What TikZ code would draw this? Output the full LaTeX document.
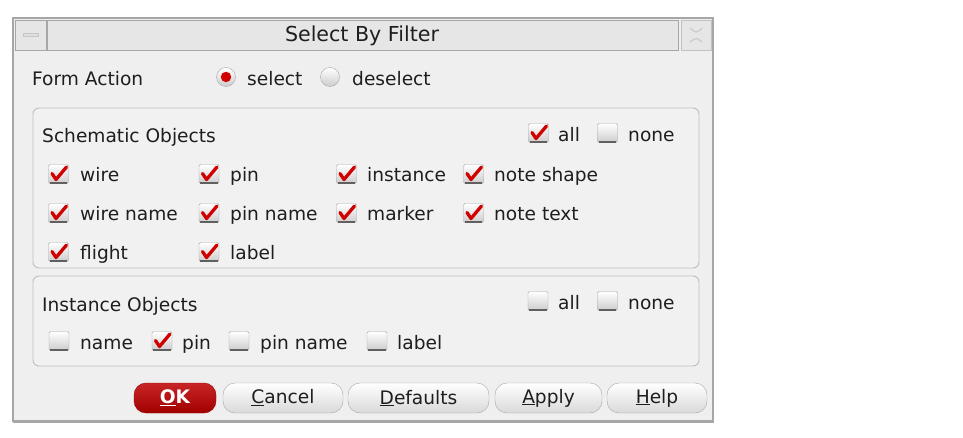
\documentclass[tikz,border=0pt]{standalone}
\usepackage{fontspec}
\setmainfont{DejaVu Sans}
\usetikzlibrary{calc}
\definecolor{dlgbg}{HTML}{EFEFEF}
\definecolor{frame}{HTML}{A6A6A6}
\definecolor{grpline}{HTML}{BEBEBE}
\definecolor{titlebg}{HTML}{E6E6E6}
\definecolor{txt}{HTML}{1E1E1E}
\definecolor{chkred}{HTML}{D00000}
\definecolor{okred}{HTML}{BE0000}
\tikzset{
  lbl/.style={anchor=base west, inner sep=0pt, text=txt, font=\fontsize{18.6}{22}\selectfont},
  cbox/.style={draw=frame, rounded corners=1.5pt, minimum width=20pt, minimum height=19pt,
    inner sep=0pt, top color=white, bottom color=gray!40},
  cshadow/.style={draw=gray!75!black, line width=1.6pt},
  chk/.style={draw=chkred, line width=3.3pt, line cap=round, line join=round},
  radio/.style={circle, draw=frame, minimum size=19pt, inner sep=0pt, top color=white, bottom color=gray!40},
  btn/.style={draw=gray!70, rounded corners=12pt, top color=white, bottom color=gray!30,
    minimum height=30pt, inner sep=0pt, text=txt, font=\fontsize{18.6}{22}\selectfont},
  grp/.style={draw=grpline, rounded corners=6pt, fill=dlgbg!85!white, line width=0.9pt},
}
\newcommand\mkbox[4]{%
  \node[cbox] (#1) at (#2,#3) {};
  \draw[cshadow] ($(#1.south west)+(1.5,-0.8)$) -- ($(#1.south east)+(-1.5,-0.8)$);
  \ifnum#4=1 \draw[chk] ($(#1.center)+(-6.5,-0.5)$) -- ($(#1.center)+(-2.5,5.5)$) -- ($(#1.center)+(8,-7)$);\fi}
\begin{document}
\begin{tikzpicture}[x=1pt,y=-1pt]
\useasboundingbox (0,0) rectangle (963,438);
\fill[white] (0,0) rectangle (963,438);
% dialog
\draw[frame, fill=dlgbg, line width=1.2pt] (13,18) rectangle (713,421);
\draw[gray!70, line width=3pt] (13,421) -- (714,421);
% title bar
\node[draw=frame, fill=titlebg, minimum width=31pt, minimum height=30pt, inner sep=0pt, anchor=north west] (minbox) at (15,20) {};
\node[draw=gray!45, fill=gray!25, minimum width=15pt, minimum height=3pt, inner sep=0pt] (minbar) at (minbox.center) {};
\node[draw=frame, fill=titlebg, minimum width=631pt, minimum height=30pt, inner sep=0pt, anchor=north west] (titlebar) at (47,20) {};
\node[draw=frame!70, fill=titlebg, minimum width=30pt, minimum height=30pt, inner sep=0pt, anchor=north west] (closebox) at (681,20) {};
\draw[gray!40, line width=1.3pt] ($(closebox.center)+(-6,-7)$) .. controls ($(closebox.center)+(0,-2)$) .. ($(closebox.center)+(6,-7)$);
\draw[gray!40, line width=1.3pt] ($(closebox.center)+(-6,7)$) .. controls ($(closebox.center)+(0,2)$) .. ($(closebox.center)+(6,7)$);
\node[anchor=base, inner sep=0pt, text=txt, font=\fontsize{20.6}{24}\selectfont] (title) at (362,42) {Select By Filter};
% form action
\node[lbl] (formaction) at (32,86) {Form Action};
\node[radio] (rsel) at (226,77) {};
\fill[chkred] (rsel.center) circle (5.2);
\node[lbl] (tsel) at (247,86) {select};
\node[radio] (rdesel) at (330,77) {};
\node[lbl] (tdesel) at (352,86) {deselect};
% schematic group
\draw[grp] (33,108) rectangle (699,268);
\node[lbl] (schem) at (42,143) {Schematic Objects};
\mkbox{sall}{538.5}{133}{1}
\node[lbl] (tsall) at (558,142) {all};
\mkbox{snone}{607.5}{133}{0}
\node[lbl] (tsnone) at (628,142) {none};
\mkbox{cwire}{58.5}{174}{1}      \node[lbl] (twire) at (80,182) {wire};
\mkbox{cpin}{209}{174}{1}        \node[lbl] (tpin) at (230,182) {pin};
\mkbox{cinst}{346.5}{174}{1}     \node[lbl] (tinst) at (367,182) {instance};
\mkbox{cnshape}{473.5}{174}{1}   \node[lbl] (tnshape) at (494,182) {note shape};
\mkbox{cwname}{58.5}{213}{1}     \node[lbl] (twname) at (80,221) {wire name};
\mkbox{cpname}{209}{213}{1}      \node[lbl] (tpname) at (230,221) {pin name};
\mkbox{cmarker}{346.5}{213}{1}   \node[lbl] (tmarker) at (367,221) {marker};
\mkbox{cntext}{473.5}{213}{1}    \node[lbl] (tntext) at (494,221) {note text};
\mkbox{cflight}{58.5}{252}{1}    \node[lbl] (tflight) at (80,259) {flight};
\mkbox{clabel}{209}{252}{1}      \node[lbl] (tlabel) at (230,259) {label};
% instance group
\draw[grp] (33,276) rectangle (699,366);
\node[lbl] (inst) at (42,311) {Instance Objects};
\mkbox{iall}{538}{301}{0}
\node[lbl] (tiall) at (558,309) {all};
\mkbox{inone}{607.5}{301}{0}
\node[lbl] (tinone) at (628,309) {none};
\mkbox{iname}{59}{341}{0}        \node[lbl] (tiname) at (80,349) {name};
\mkbox{ipin}{162}{341}{1}        \node[lbl] (tipin) at (182,349) {pin};
\mkbox{ipname}{239}{341}{0}      \node[lbl] (tipname) at (260,349) {pin name};
\mkbox{ilabel}{377}{341}{0}      \node[lbl] (tilabel) at (397,349) {label};
% buttons
\node[btn, draw=okred!80!black, top color=okred!85!white, bottom color=okred!85!black, text=white,
  font=\fontsize{18.6}{22}\selectfont\bfseries, minimum width=82pt] (ok) at (175,398) {\underline{O}K};
\node[btn, minimum width=120pt] (cancel) at (283,398) {\underline{C}ancel};
\node[btn, minimum width=141pt] (defaults) at (418.5,398) {\underline{D}efaults};
\node[btn, minimum width=107pt] (apply) at (548.5,398) {\underline{A}pply};
\node[btn, minimum width=100pt] (help) at (657,398) {\underline{H}elp};
\end{tikzpicture}
\end{document}
